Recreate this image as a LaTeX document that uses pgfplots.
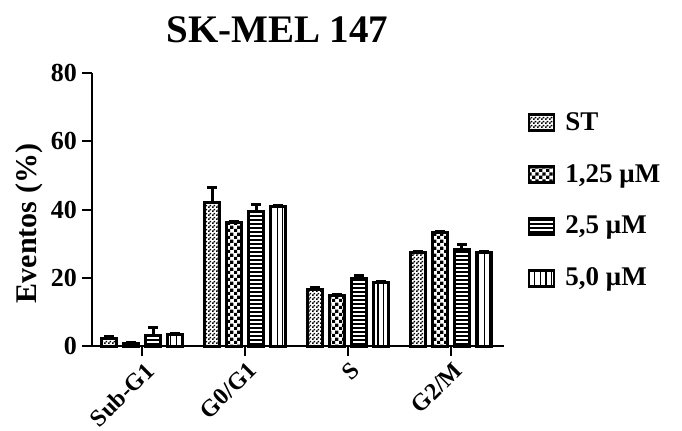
\documentclass[border=0pt]{standalone}
\usepackage{pgfplots}
\pgfplotsset{compat=1.18}
\usepackage{fontspec}
\setmainfont{Liberation Serif}
\usetikzlibrary{patterns}

\pgfdeclarepatternformonly{checkfine}{\pgfpointorigin}{\pgfpoint{1.8pt}{1.8pt}}{\pgfpoint{1.8pt}{1.8pt}}{%
  \pgfpathrectangle{\pgfpointorigin}{\pgfpoint{0.9pt}{0.9pt}}%
  \pgfpathrectangle{\pgfpoint{0.9pt}{0.9pt}}{\pgfpoint{0.9pt}{0.9pt}}%
  \pgfusepath{fill}}
\pgfdeclarepatternformonly{checkbig}{\pgfpointorigin}{\pgfpoint{3.6pt}{3.6pt}}{\pgfpoint{3.6pt}{3.6pt}}{%
  \pgfpathrectangle{\pgfpointorigin}{\pgfpoint{1.8pt}{1.8pt}}%
  \pgfpathrectangle{\pgfpoint{1.8pt}{1.8pt}}{\pgfpoint{1.8pt}{1.8pt}}%
  \pgfusepath{fill}}
\pgfdeclarepatternformonly{hlines}{\pgfpoint{-1pt}{-1pt}}{\pgfpoint{3pt}{3pt}}{\pgfpoint{2pt}{2pt}}{%
  \pgfsetlinewidth{0.6pt}%
  \pgfpathmoveto{\pgfpoint{-1pt}{1pt}}\pgfpathlineto{\pgfpoint{3pt}{1pt}}%
  \pgfusepath{stroke}}
\pgfdeclarepatternformonly{vlines}{\pgfpoint{-1pt}{-1pt}}{\pgfpoint{4pt}{4pt}}{\pgfpoint{2.8pt}{2.8pt}}{%
  \pgfsetlinewidth{0.6pt}%
  \pgfpathmoveto{\pgfpoint{1.4pt}{-1pt}}\pgfpathlineto{\pgfpoint{1.4pt}{4pt}}%
  \pgfusepath{stroke}}

\begin{document}
\begin{tikzpicture}
\useasboundingbox (-46pt,-42pt) rectangle (295pt,173pt);
\begin{axis}[
  at={(0,0)}, anchor=south west,
  scale only axis, clip=false,
  width=206pt, height=136.5pt,
  xmin=-0.49, xmax=3.52,
  ymin=0, ymax=80,
  ytick={0,20,40,60,80},
  xtick={0,1,2,3},
  xticklabels={Sub-G1,G0/G1,S,G2/M},
  axis lines*=left,
  axis line style={line width=1.2pt, -},
  tick align=outside,
  major tick length=5pt,
  tick style={line width=1pt, black},
  /pgf/number format/assume math mode=true,
  yticklabel style={font=\fontsize{13}{13}\selectfont\bfseries, xshift=1pt},
  xticklabel style={font=\fontsize{12}{12}\selectfont\bfseries, rotate=45, anchor=north east, inner sep=1pt, yshift=-1pt},
  ylabel={Eventos (\%)},
  every axis y label/.style={at={(rel axis cs:0,0.5)}, xshift=-31.5pt, yshift=-7pt, rotate=90, anchor=center, font=\fontsize{15}{15}\selectfont\bfseries},
  ybar=3.5pt, bar width=7.5pt,
  error bars/y dir=plus, error bars/y explicit,
  error bars/error bar style={line width=1.5pt, black},
  error bars/error mark options={line width=1.5pt, mark size=2.5pt, rotate=90, black},
  legend cell align=left,
  legend style={draw=none, fill=none, at={(rel axis cs:1.057,0.872)}, anchor=north west,
    font=\fontsize{13.5}{13.5}\selectfont\bfseries, row sep=11.5pt, inner sep=0pt},
  legend image code/.code={\draw[#1, line width=1.3pt] (0pt,-4pt) rectangle (12.5pt,4pt);},
]
\addplot[draw=black, line width=1.5pt, pattern=checkfine, pattern color=black] coordinates {(0,2.2) +- (0,0.5) (1,42.0) +- (0,4.5) (2,16.6) +- (0,0.6) (3,27.3) +- (0,0.5)};
\addlegendentry{\hspace{3pt}ST}
\addplot[draw=black, line width=1.5pt, pattern=checkbig, pattern color=black] coordinates {(0,0.7) +- (0,0.2) (1,36.2) +- (0,0.3) (2,14.7) +- (0,0.3) (3,33.2) +- (0,0.3)};
\addlegendentry{\hspace{3pt}1,25 μM}
\addplot[draw=black, line width=1.5pt, pattern=hlines, pattern color=black] coordinates {(0,3.0) +- (0,2.3) (1,39.4) +- (0,2.0) (2,19.8) +- (0,0.8) (3,28.3) +- (0,1.5)};
\addlegendentry{\hspace{3pt}2,5 μM}
\addplot[draw=black, line width=1.5pt, pattern=vlines, pattern color=black] coordinates {(0,3.4) +- (0,0.2) (1,41.0) +- (0,0.3) (2,18.6) +- (0,0.3) (3,27.4) +- (0,0.3)};
\addlegendentry{\hspace{3pt}5,0 μM}
\node[font=\fontsize{19.5}{19.5}\selectfont\bfseries] at (rel axis cs:0.45,1) [yshift=21.5pt] {SK-MEL 147};
\end{axis}
\end{tikzpicture}
\end{document}
